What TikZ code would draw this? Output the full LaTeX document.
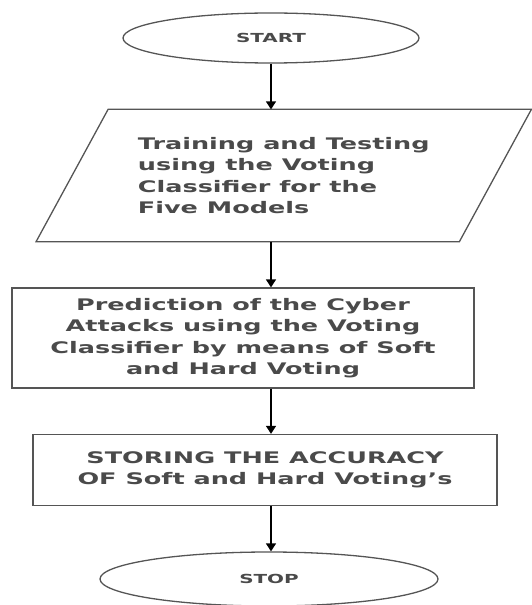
\documentclass[tikz,border=0pt]{standalone}
\usepackage{fontspec}
\newfontfamily\flowfont{DejaVu Sans}[FakeStretch=1.6]
\usetikzlibrary{positioning, shapes.geometric, arrows.meta}
\definecolor{edge}{HTML}{555555}
\definecolor{ink}{HTML}{4A4A4A}

\begin{document}
\begin{tikzpicture}[x=1bp, y=-1bp,
  box/.style={draw=edge, line width=1.3bp, inner sep=0pt, text=ink,
              font=\flowfont\bfseries\fontsize{16}{21.5}\selectfont},
  term/.style={box, ellipse, font=\flowfont\bfseries\fontsize{12.5}{15}\selectfont},
  proc/.style={box, rectangle, align=center},
  io/.style={box, draw=none, rectangle, align=left},
  flow/.style={-{Triangle[width=10bp,length=8bp]}, line width=1.5bp, black}]
  \useasboundingbox (0,0) rectangle (532,605);

  % Flow chart, top to bottom.
  \node[term, minimum width=296bp, minimum height=50bp] (start) at (271,38) {START};
  \node[io, minimum width=422bp, minimum height=131bp] (train) at (283.75,175.5)
    {Training and Testing\\using the Voting\\Classifier for the\\Five Models};
  \draw[draw=edge, line width=1.3bp]
    ([xshift=36bp]train.north west) -- ([xshift=36bp]train.north east)
    -- ([xshift=-36bp]train.south east) -- ([xshift=-36bp]train.south west) -- cycle;
  \node[proc, minimum width=462bp, minimum height=100bp] (pred) at (243,338)
    {Prediction of the Cyber\\Attacks using the Voting\\Classifier by means of Soft\\and Hard Voting};
  \node[proc, minimum width=464bp, minimum height=71bp] (store) at (265,470)
    {STORING THE ACCURACY\\OF Soft and Hard Voting’s};
  \node[term, minimum width=338bp, minimum height=54bp] (stop) at (269,579) {STOP};

  % Connectors on one vertical line.
  \draw[flow] (start.south) -- (start.south |- train.north);
  \draw[flow] (start.south |- train.south) -- (start.south |- pred.north);
  \draw[flow] (start.south |- pred.south) -- (start.south |- store.north);
  \draw[flow] (start.south |- store.south) -- (start.south |- stop.north);
\end{tikzpicture}
\end{document}
